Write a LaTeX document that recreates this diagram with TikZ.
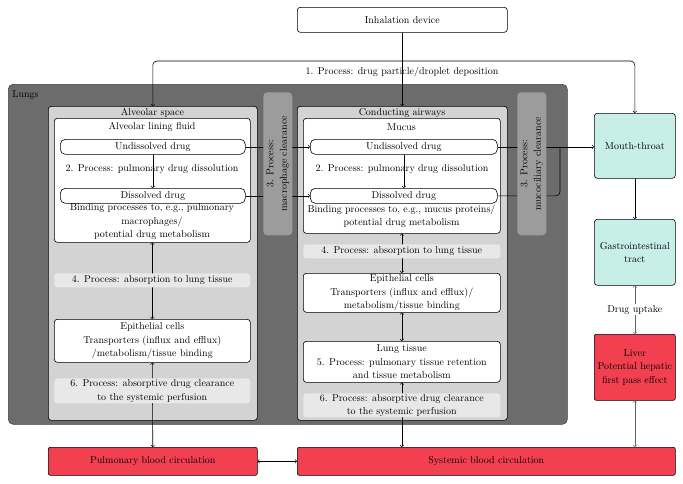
\documentclass[tikz,border=0pt]{standalone}
\usepackage{tikz}

\definecolor{lungsgray}{RGB}{108,108,108}
\definecolor{spacegray}{RGB}{211,211,211}
\definecolor{cleargray}{RGB}{156,156,156}
\definecolor{bandgray}{RGB}{232,232,232}
\definecolor{mouthteal}{RGB}{200,238,232}
\definecolor{bloodred}{RGB}{242,64,80}

\tikzset{
        every node/.style={font=\fontsize{10}{13.5}\selectfont},
        box/.style={draw, fill=white, rounded corners=3pt, align=center, inner sep=1pt, anchor=north west},
        space/.style={draw, fill=spacegray, rounded corners=3pt, anchor=north west, inner sep=0pt},
        band/.style={fill=bandgray, rounded corners=3pt, align=center, inner sep=0pt, anchor=north west},
        clearance/.style={fill=cleargray, rounded corners=4pt, anchor=north west, inner sep=0pt},
        organ/.style={draw, fill=mouthteal, rounded corners=3pt, align=center, inner sep=1pt, anchor=north west},
        blood/.style={draw, fill=bloodred, rounded corners=2pt, align=center, inner sep=1pt, anchor=north west},
}

\begin{document}
\begin{tikzpicture}[x=1pt, y=-1pt, >=to, line width=0.6pt]

        \useasboundingbox (0,0) rectangle (683,483);

        \node[box, minimum width=210, minimum height=25] (device) at (297,7) {Inhalation device};

        \node[draw=black!75, fill=lungsgray, rounded corners=5pt, anchor=north west, minimum width=559, minimum height=340, inner sep=0pt] (lungs) at (8,84) {};
        \node[anchor=west, inner sep=0pt] (lungslabel) at (12,95) {Lungs};

        \node[space, minimum width=209, minimum height=314] (alveolar) at (48,106) {};
        \node[space, minimum width=210, minimum height=314] (airways) at (297,106) {};
        \node (alveolartitle) at (152.5,112.5) {Alveolar space};
        \node (airwaystitle) at (402,112.5) {Conducting airways};

        \node[box, minimum width=196, minimum height=124] (fluid) at (54,118) {};
        \node[box, minimum width=197, minimum height=115] (mucus) at (303,118) {};
        \node (fluidtitle) at (152,127) {Alveolar lining fluid};
        \node (mucustitle) at (401.5,127) {Mucus};

        \node[box, rounded corners=5pt, minimum width=185, minimum height=15] (undissL) at (60,139) {Undissolved drug};
        \node[box, rounded corners=5pt, minimum width=185, minimum height=15] (dissL) at (60,188) {Dissolved drug};
        \node[box, rounded corners=5pt, minimum width=187, minimum height=15] (undissR) at (310,139) {Undissolved drug};
        \node[box, rounded corners=5pt, minimum width=187, minimum height=15] (dissR) at (310,188) {Dissolved drug};

        \node[align=center] (bindL) at (152,222) {Binding processes to, e.g., pulmonary\\macrophages/\\potential drug metabolism};
        \node[align=center] (bindR) at (401.5,216.5) {Binding processes to, e.g., mucus proteins/\\potential drug metabolism};

        \node[box, minimum width=196, minimum height=43] (epiL) at (54,319) {Epithelial cells\\Transporters (influx and efflux)\\/metabolism/tissue binding};
        \node[box, minimum width=197, minimum height=39] (epiR) at (303,273) {Epithelial cells\\Transporters (influx and efflux)/\\metabolism/tissue binding};
        \node[box, minimum width=197, minimum height=41] (tissueR) at (303,341) {Lung tissue\\5. Process: pulmonary tissue retention\\and tissue metabolism};

        \node[organ, minimum width=81, minimum height=65] (mouth) at (594,113) {Mouth-throat};
        \node[organ, minimum width=81, minimum height=66] (gi) at (594,219) {Gastrointestinal\\tract};
        \node[blood, minimum width=81, minimum height=66] (liver) at (594,334) {Liver\\Potential hepatic\\first pass effect};
        \node[blood, minimum width=209, minimum height=28] (pulm) at (48,447) {Pulmonary blood circulation};
        \node[blood, minimum width=378, minimum height=28] (syst) at (297,447) {Systemic blood circulation};

        \coordinate (split) at (402,61);
        \coordinate (join) at (560,146.5);
        \draw[->] (device) -- (airways);
        \draw[->, rounded corners=4pt] (split) -| (alveolar.north);
        \draw[->, rounded corners=4pt] (split) -| (mouth.north);
        \node (deposition) at (402,72) {1. Process: drug particle/droplet deposition};

        \draw[->] (undissL) -- (undissR);
        \draw[->] (dissL) -- (dissR);
        \draw[->] (undissL) -- (dissL);
        \draw[->] (undissR) -- (dissR);
        \node (dissolutionL) at (152,169) {2. Process: pulmonary drug dissolution};
        \node (dissolutionR) at (402,169) {2. Process: pulmonary drug dissolution};
        \draw[->] (undissR.east) -- (undissR.east -| mouth.west);
        \draw[rounded corners=4pt] (dissR.east) -| (join);

        \draw[<->] (fluid.south) -- (epiL.north);
        \draw[<->] (epiL.south) -- (pulm.north);
        \draw[<->] (mucus.south) -- (epiR.north);
        \draw[<->] (epiR.south) -- (tissueR.north);
        \draw[<->] (tissueR.south) -- (tissueR.south |- syst.north);
        \draw[<->] (pulm) -- (syst);

        \draw[->] (mouth) -- (gi);
        \draw[<->, black!60] (gi) -- (liver) node[midway, fill=white, text=black, inner sep=1pt] (uptake) {Drug uptake};
        \draw[<->, black!60] (liver.south) -- (liver.south |- syst.north);

        \node[band, minimum width=196, minimum height=14] (absorbL) at (54,273) {4. Process: absorption to lung tissue};
        \node[band, minimum width=197, minimum height=14] (absorbR) at (303,244) {4. Process: absorption to lung tissue};
        \node[band, minimum width=196, minimum height=25] (clearL) at (54,378) {6. Process: absorptive drug clearance\\to the systemic perfusion};
        \node[band, minimum width=197, minimum height=24] (clearR) at (303,393) {6. Process: absorptive drug clearance\\to the systemic perfusion};

        \node[clearance, minimum width=29, minimum height=143] (macro) at (263,92) {};
        \node[clearance, minimum width=29, minimum height=143] (mucocil) at (517,92) {};
        \node[rotate=90, align=center] at (macro.center) {3. Process:\\macrophage clearance};
        \node[rotate=90, align=center] at (mucocil.center) {3. Process:\\mucociliary clearance};

\end{tikzpicture}
\end{document}
